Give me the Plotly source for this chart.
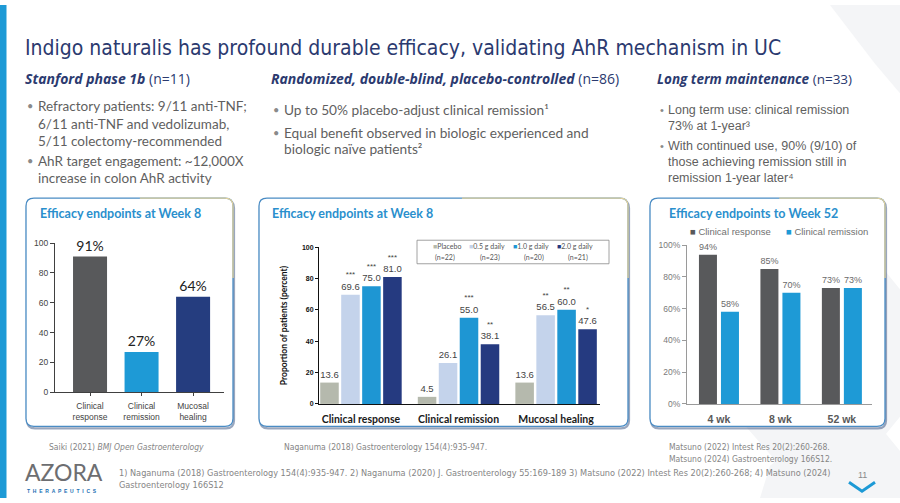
import plotly.graph_objects as go

W, H = 900, 503


def X(p):
    return p / W


def Y(p):
    return 1 - p / H


# ---------------- data ----------------
p1_categories = ["Clinical<br>response", "Clinical<br>remission", "Mucosal<br>healing"]
p1_values = [91, 27, 64]
p1_labels = ["91%", "27%", "64%"]

p2_categories = ["Clinical response", "Clinical remission", "Mucosal healing"]
p2_series = ["Placebo", "0.5 g daily", "1.0 g daily", "2.0 g daily"]
p2_n = ["(n=22)", "(n=23)", "(n=20)", "(n=21)"]
p2_placebo = [13.6, 4.5, 13.6]
p2_low = [69.6, 26.1, 56.5]
p2_mid = [75.0, 55.0, 60.0]
p2_high = [81.0, 38.1, 47.6]
p2_stars_placebo = ["", "", ""]
p2_stars_low = ["***", "", "**"]
p2_stars_mid = ["***", "***", "**"]
p2_stars_high = ["***", "**", "*"]

p3_categories = ["4 wk", "8 wk", "52 wk"]
p3_series = ["Clinical response", "Clinical remission"]
p3_response = [94, 85, 73]
p3_remission = [58, 70, 73]

# ---------------- styles ----------------
NAVY = "#2b3a6f"
GRAY_TXT = "#5f5f5f"
PANEL_BLUE = "#2a8fcd"
AVENIR = "Lato, 'Noto Sans', sans-serif"
HEAD = "'Open Sans', 'Noto Sans', sans-serif"
ARIAL = "'Liberation Sans', Arial, sans-serif"
NARROW = "'Liberation Sans Narrow', 'DejaVu Sans Condensed', sans-serif"

P1_COLORS = ["#58595b", "#1e9ad6", "#253d7f"]
P2_COLORS = ["#b5b9ad", "#c4d3eb", "#1e96d3", "#253a80"]
P3_COLORS = ["#58595b", "#1e9ad6"]

fig = go.Figure()

# ---------- panel 1 ----------
fig.add_trace(go.Bar(
    x=p1_categories, y=p1_values, text=p1_labels, textposition="outside",
    textfont=dict(family=AVENIR, size=14, color="#222222"),
    marker=dict(color=P1_COLORS, line=dict(width=0)), width=0.66,
    constraintext="none", cliponaxis=False, showlegend=False,
    xaxis="x", yaxis="y", hoverinfo="skip"))

# ---------- panel 2 ----------
p2_vals = [p2_placebo, p2_low, p2_mid, p2_high]
p2_stars = [p2_stars_placebo, p2_stars_low, p2_stars_mid, p2_stars_high]
bw2, stride2 = 0.19, 0.215
for i, (name, vals, stars, col) in enumerate(zip(p2_series, p2_vals, p2_stars, P2_COLORS)):
    texts = []
    for v, s in zip(vals, stars):
        if s:
            texts.append(f"<span style='font-size:8px'>{s}</span><br>{v:.1f}")
        else:
            texts.append(f"{v:.1f}")
    center = (i - 1.5) * stride2
    fig.add_trace(go.Bar(
        x=p2_categories, y=vals, name=name, text=texts, textposition="outside",
        textfont=dict(family=ARIAL, size=9.5, color="#444444"),
        marker=dict(color=col, line=dict(width=0)), width=bw2, offset=center - bw2 / 2,
        constraintext="none", cliponaxis=False, showlegend=False,
        xaxis="x2", yaxis="y2", hoverinfo="skip"))

# ---------- panel 3 ----------
bw3, stride3 = 0.293, 0.358
for i, (name, vals, col) in enumerate(zip(p3_series, [p3_response, p3_remission], P3_COLORS)):
    center = (i - 0.5) * stride3
    fig.add_trace(go.Bar(
        x=p3_categories, y=vals, name=name, text=[f"{v}%" for v in vals],
        textposition="outside",
        textfont=dict(family=ARIAL, size=9, color="#6a6a6a"),
        marker=dict(color=col, line=dict(width=0)), width=bw3, offset=center - bw3 / 2,
        constraintext="none", cliponaxis=False, showlegend=False,
        xaxis="x3", yaxis="y3", hoverinfo="skip"))

# ---------------- axes ----------------
common_x = dict(type="category", showgrid=False, zeroline=False, showline=True, fixedrange=True)
common_y = dict(range=[0, 100], dtick=20, showgrid=False, zeroline=False, showline=True,
                ticks="outside", fixedrange=True)

fig.update_layout(
    xaxis=dict(common_x, domain=[X(55), X(224)], range=[-0.68, 2.6], anchor="y",
               linecolor="#404040", linewidth=1, ticks="outside", ticklen=3, tickcolor="#404040",
               ticklabelstandoff=3,
               tickfont=dict(family=ARIAL, size=8.5, color="#444444")),
    yaxis=dict(common_y, domain=[Y(395), Y(243)], anchor="x", linecolor="#404040",
               ticklen=4, tickcolor="#404040",
               tickfont=dict(family=ARIAL, size=8.5, color="#444444")),
    xaxis2=dict(common_x, domain=[X(319), X(600)], range=[-0.43, 2.45], anchor="y2",
                linecolor="#111111", linewidth=1, ticks="", ticklabelstandoff=5,
                tickfont=dict(family=AVENIR, size=10.5, color="#1a1a1a", weight="bold")),
    yaxis2=dict(common_y, domain=[Y(407), Y(247)], anchor="x2", linecolor="#111111",
                ticklen=3, tickcolor="#111111",
                tickfont=dict(family=ARIAL, size=7, color="#111111", weight="bold"),
                title=dict(text="<b>Proportion of patients (percent)</b>", standoff=12,
                           font=dict(family=AVENIR, size=8.5, color="#111111"))),
    xaxis3=dict(common_x, domain=[X(687), X(872)], range=[-0.52, 2.49], anchor="y3",
                linecolor="#9a9a9a", linewidth=1, ticks="", ticklabelstandoff=5,
                tickfont=dict(family=ARIAL, size=10.5, color="#595959", weight="bold")),
    yaxis3=dict(common_y, domain=[Y(407), Y(245)], anchor="x3", linecolor="#9a9a9a",
                ticklen=4, tickcolor="#9a9a9a", ticksuffix="%",
                tickfont=dict(family=ARIAL, size=8.5, color="#7a7a7a")),
    barmode="overlay",
    width=W, height=H, margin=dict(l=0, r=0, t=0, b=0),
    paper_bgcolor="white", plot_bgcolor="rgba(0,0,0,0)",
    showlegend=False,
)

# ---------------- shapes ----------------
shapes = []


def rrect(x0, y0, x1, y1, r=8):
    rx, ry = r / W, r / H
    a0, a1 = X(x0), X(x1)
    b0, b1 = Y(y0), Y(y1)  # b0 top (larger), b1 bottom
    return (f"M {a0 + rx},{b0} L {a1 - rx},{b0} Q {a1},{b0} {a1},{b0 - ry} "
            f"L {a1},{b1 + ry} Q {a1},{b1} {a1 - rx},{b1} L {a0 + rx},{b1} "
            f"Q {a0},{b1} {a0},{b1 + ry} L {a0},{b0 - ry} Q {a0},{b0} {a0 + rx},{b0} Z")


# left accent strip
shapes.append(dict(type="rect", xref="paper", yref="paper", x0=0, x1=X(6.5), y0=0, y1=1,
                   fillcolor="#1d9ad6", line=dict(width=0), layer="below"))

# faint background hexagon hints (right side)
for pts in [
    [(830, 0), (900, 0), (900, 90), (875, 60)],
    [(720, 300), (780, 240), (860, 240), (900, 290), (900, 420), (860, 470), (780, 470), (720, 400)],
    [(770, 470), (820, 430), (880, 430), (900, 455), (900, 503), (760, 503)],
]:
    path = "M " + " L ".join(f"{X(a)},{Y(b)}" for a, b in pts) + " Z"
    shapes.append(dict(type="path", xref="paper", yref="paper", path=path,
                       fillcolor="#f4f5f7", line=dict(width=0), layer="below"))

panels = [(26, 197, 233, 430), (259, 197, 628, 430), (650, 197, 885, 430)]
for (x0, y0, x1, y1) in panels:
    shapes.append(dict(type="path", xref="paper", yref="paper", path=rrect(x0 + 1, y0 + 2, x1 + 1, y1 + 2),
                       fillcolor="rgba(0,0,0,0)", line=dict(color="rgba(30,60,110,0.45)", width=2.2),
                       layer="below"))
    shapes.append(dict(type="path", xref="paper", yref="paper", path=rrect(x0, y0, x1, y1),
                       fillcolor="white", line=dict(color="#4a8cc4", width=1.3), layer="below"))
    xm = x0 + (x1 - x0) * 0.55
    rx, ry = 8 / W, 8 / H
    gold = (f"M {X(xm)},{Y(y0)} L {X(x1) - rx},{Y(y0)} Q {X(x1)},{Y(y0)} {X(x1)},{Y(y0) - ry} "
            f"L {X(x1)},{Y(y0 + (y1 - y0) * 0.35)}")
    shapes.append(dict(type="path", xref="paper", yref="paper", path=gold,
                       line=dict(color="#dfcf9c", width=1.4), layer="below"))

# panel 2 legend box
shapes.append(dict(type="rect", xref="paper", yref="paper", x0=X(417), x1=X(609), y0=Y(264), y1=Y(240),
                   line=dict(color="#8a8a8a", width=0.8), fillcolor="white", layer="below"))

# chevron
shapes.append(dict(type="path", xref="paper", yref="paper",
                   path=f"M {X(849)},{Y(487)} L {X(862)},{Y(496)} L {X(875)},{Y(487)}",
                   line=dict(color="#1d9ad6", width=3)))

fig.update_layout(shapes=shapes)

# ---------------- annotations ----------------
ann = []


def txt(text, x, y, size, color, family=AVENIR, xanchor="left", yanchor="middle", **kw):
    ann.append(dict(text=text, x=X(x), y=Y(y), xref="paper", yref="paper", showarrow=False,
                    xanchor=xanchor, yanchor=yanchor, align="left", borderpad=0,
                    font=dict(family=family, size=size, color=color), **kw))


# title
txt("Indigo naturalis has profound durable efficacy, validating AhR mechanism in UC",
    24, 44, 21, NAVY, family=NARROW)

# column headings
txt("<b><i>Stanford phase 1b</i></b> (n=11)", 24, 75, 14, NAVY, family=HEAD)
txt("<b><i>Randomized, double-blind, placebo-controlled</i></b> (n=86)", 270, 75, 14, NAVY, family=HEAD)
txt("<b><i>Long term maintenance</i></b> (n=33)", 656, 75, 13.5, NAVY, family=HEAD)

# column 1 bullets
BUL = "#8a8a8a"
for t, y in [("Refractory patients: 9/11 anti-TNF;", 103), ("6/11 anti-TNF and vedolizumab,", 121),
             ("5/11 colectomy-recommended", 139), ("AhR target engagement: ~12,000X", 159),
             ("increase in colon AhR activity", 176)]:
    txt(t, 37, y, 13.5, GRAY_TXT)
for y in [103, 159]:
    txt("•", 26, y, 11, BUL)

# column 2 bullets
for t, y in [("Up to 50% placebo-adjust clinical remission¹", 107),
             ("Equal benefit observed in biologic experienced and", 130),
             ("biologic naïve patients²", 146)]:
    txt(t, 283, y, 13.7, GRAY_TXT)
for y in [107, 130]:
    txt("•", 272, y, 11, BUL)

# column 3 bullets
for t, y in [("Long term use: clinical remission", 107), ("73% at 1-year³", 123),
             ("With continued use, 90% (9/10) of", 144), ("those achieving remission still in", 160),
             ("remission 1-year later⁴", 176)]:
    txt(t, 667, y, 12.5, GRAY_TXT, family=ARIAL)
for y in [107, 144]:
    txt("•", 659, y, 11, BUL, family=ARIAL)

# panel titles
txt("<b>Efficacy endpoints at Week 8</b>", 39, 213, 12.5, PANEL_BLUE)
txt("<b>Efficacy endpoints at Week 8</b>", 271, 213, 12.5, PANEL_BLUE)
txt("<b>Efficacy endpoints to Week 52</b>", 668, 213, 12.5, PANEL_BLUE)

# panel 2 legend
leg2_x = [432, 468, 512, 556]
for name, n, col, lx in zip(p2_series, p2_n, P2_COLORS, leg2_x):
    txt(f"<span style='color:{col}'>■</span>{name}", lx, 246, 7, "#555555", family=AVENIR)
    txt(n, lx + 22 if name != "Placebo" else lx + 13, 258, 7, "#555555", family=AVENIR,
        xanchor="center")

# panel 3 legend
txt(f"<span style='color:{P3_COLORS[0]}'>■</span> {p3_series[0]}", 689, 231, 9.5, "#707070", family=ARIAL)
txt(f"<span style='color:{P3_COLORS[1]}'>■</span> {p3_series[1]}", 785, 231, 9.5, "#707070", family=ARIAL)

# source notes
SRC = "#858585"
txt("Saiki (2021) <i>BMJ Open Gastroenterology</i>", 48, 451, 8.5, SRC, family=NARROW)
txt("Naganuma (2018) Gastroenterology 154(4):935-947.", 283, 451, 8.5, SRC, family=NARROW)
txt("Matsuno (2022) Intest Res 20(2):260-268.", 668, 451, 8.5, SRC, family=NARROW)
txt("Matsuno (2024) Gastroenterology 166S12.", 668, 463, 8.5, SRC, family=NARROW)

txt("1) Naganuma (2018) Gastroenterology 154(4):935-947. 2) Naganuma (2020) J. Gastroenterology "
    "55:169-189 3) Matsuno (2022) Intest Res 20(2):260-268; 4) Matsuno (2024)", 118, 478, 9.1, SRC,
    family=NARROW)
txt("Gastroenterology 166S12", 118, 490, 9.1, SRC, family=NARROW)

# logo
txt("AZORA", 24, 476, 23, "#6d6e71", family=AVENIR)
sp = " \u00a0"
txt("<b>" + sp.join("THERAPEUTICS") + "</b>", 26, 496, 5, "#1b6fb3", family=ARIAL)

# page number
txt("11", 862, 480, 9, "#8a8a8a", family=ARIAL, xanchor="center")

fig.update_layout(annotations=ann)

fig.write_html("out.html", config={"displayModeBar": False},
               post_script="document.body.style.margin='0';document.body.style.overflow='hidden';")
